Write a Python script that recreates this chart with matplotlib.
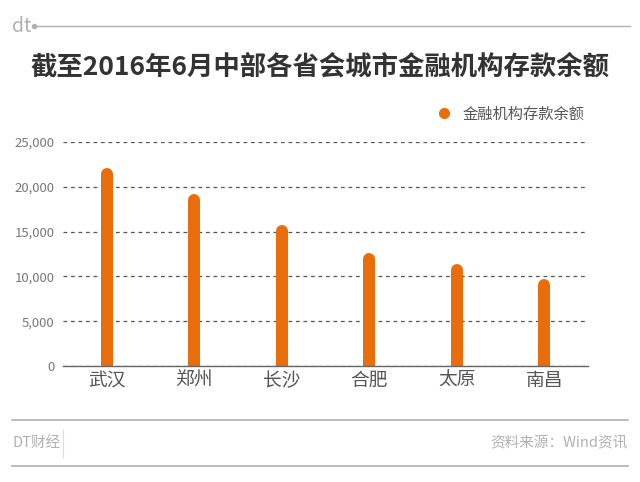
"""
截至2016年6月中部各省会城市金融机构存款余额 (DT财经 style bar chart).
"""

import matplotlib.pyplot as plt
from matplotlib.lines import Line2D
from matplotlib.ticker import FuncFormatter

plt.rcParams["font.family"] = ["Noto Sans CJK SC", "DejaVu Sans"]

cities = ["武汉", "郑州", "长沙", "合肥", "太原", "南昌"]
deposits = [22050, 19150, 15750, 12580, 11380, 9680]
y_ticks = [0, 5000, 10000, 15000, 20000, 25000]

title = "截至2016年6月中部各省会城市金融机构存款余额"
series_name = "金融机构存款余额"
source = "资料来源：Wind资讯"
brand = "DT财经"

ORANGE = "#ea6d0b"
GRID = "#555555"
LIGHT = "#b0b0b0"


def main() -> None:
    fig = plt.figure(figsize=(6.4, 4.82), dpi=100)
    ax = fig.add_axes([63 / 640, 1 - 366 / 482, 525 / 640, 224 / 482])

    ax.set_xlim(-0.5, len(cities) - 0.5)
    ax.set_ylim(0, 25000)

    # rounded-top bars: vertical lines with round caps, shortened by the cap radius
    bar_px = 12
    cap = (bar_px / 2) / 224 * 25000
    x = list(range(len(cities)))
    ax.vlines(x, -cap, [v - cap for v in deposits], colors=ORANGE,
              linewidth=bar_px * 72 / 100, capstyle="round", zorder=3)

    ax.set_yticks(y_ticks)
    ax.yaxis.set_major_formatter(FuncFormatter(lambda v, _: f"{int(v):,}"))
    ax.grid(axis="y", color=GRID, linestyle=(0, (3, 3)), linewidth=0.9)
    ax.set_xticks(x)
    ax.set_xticklabels(cities, fontsize=13.5, color="#555555", fontweight="light")
    ax.tick_params(axis="x", length=0, pad=3)
    ax.tick_params(axis="y", length=0, pad=6, labelsize=9.5, labelcolor="#777777")
    for lab in ax.get_yticklabels():
        lab.set_fontweight("light")
    for side in ["top", "right", "left"]:
        ax.spines[side].set_visible(False)
    ax.spines["bottom"].set_color("#666666")
    ax.spines["bottom"].set_linewidth(1.0)
    ax.spines["bottom"].set_zorder(4)

    # title
    fig.text(0.5, 1 - 67 / 482, title, ha="center", va="center",
             fontsize=19, fontweight="bold", color="#333333")

    # legend
    handle = Line2D([], [], marker="o", linestyle="none", color=ORANGE, markersize=7)
    ax.legend([handle], [series_name], loc="center left",
              bbox_to_anchor=(423 / 640, 1 - 114 / 482), bbox_transform=fig.transFigure,
              frameon=False, prop={"size": 11}, labelcolor="#555555",
              handletextpad=0.2, borderaxespad=0)

    # header logo and rule
    fig.text(12 / 640, 1 - 26 / 482, "dt", ha="left", va="center",
             fontsize=14, color=LIGHT)
    fig.add_artist(Line2D([34 / 640, 630 / 640], [1 - 26 / 482] * 2,
                          color=LIGHT, linewidth=1))
    fig.add_artist(Line2D([34 / 640], [1 - 26 / 482], marker="o", markersize=3,
                          color=LIGHT))

    # footer
    for yy in (420, 466):
        fig.add_artist(Line2D([12 / 640, 628 / 640], [1 - yy / 482] * 2,
                              color=LIGHT, linewidth=1.2))
    fig.add_artist(Line2D([63 / 640] * 2, [1 - 430 / 482, 1 - 457 / 482],
                          color="#dddddd", linewidth=0.8))
    fig.text(12 / 640, 1 - 443 / 482, brand, ha="left", va="center",
             fontsize=10.5, color=LIGHT)
    fig.text(628 / 640, 1 - 443 / 482, source, ha="right", va="center",
             fontsize=10.5, color=LIGHT)

    fig.savefig("out.png", dpi=100)
    plt.close(fig)


if __name__ == "__main__":
    main()
